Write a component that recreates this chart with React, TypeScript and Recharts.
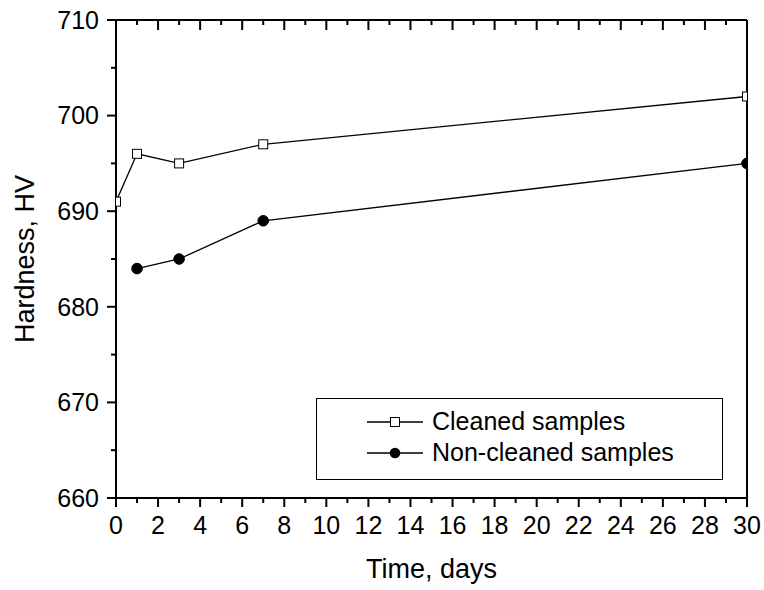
import React from 'react';
import { LineChart, Line, XAxis, YAxis, Legend, Label } from 'recharts';

// measured days and hardness values
const days = [0, 1, 3, 7, 30];
const cleaned = [691, 696, 695, 697, 702];
const nonCleaned = [null, 684, 685, 689, 695];

const xMajorTicks = [0, 2, 4, 6, 8, 10, 12, 14, 16, 18, 20, 22, 24, 26, 28, 30];
const xMinorTicks = [1, 3, 5, 7, 9, 11, 13, 15, 17, 19, 21, 23, 25, 27, 29];
const yMajorTicks = [660, 670, 680, 690, 700, 710];
const yMinorTicks = [665, 675, 685, 695, 705];

const data = days.map((d, i) => ({ day: d, cleaned: cleaned[i], nonCleaned: nonCleaned[i] }));
const xTicks = [...xMajorTicks, ...xMinorTicks].sort((a, b) => a - b);
const yTicks = [...yMajorTicks, ...yMinorTicks].sort((a, b) => a - b);

const FONT = '"Liberation Sans", Arial, sans-serif';
const axisLine = { stroke: '#000', strokeWidth: 2 };
const labelStyle = { fontSize: '25px', fontFamily: FONT, fill: '#000' };

// tick renderers: major ticks long, minor short; labels only on major ticks of bottom/left
const BottomTick = (props: any) => {
  const { x, y, payload } = props;
  const major = xMajorTicks.includes(payload.value);
  return (
    <g>
      <line x1={x} x2={x} y1={y} y2={y + (major ? 9 : 5)} stroke="#000" strokeWidth={2} />
      {major && (
        <text x={x} y={y + 18} dy="0.71em" textAnchor="middle" style={labelStyle}>{payload.value}</text>
      )}
    </g>
  );
};

const TopTick = (props: any) => {
  const { x, y, payload } = props;
  const major = xMajorTicks.includes(payload.value);
  return <line x1={x} x2={x} y1={y} y2={y + (major ? 10 : 5)} stroke="#000" strokeWidth={2} />;
};

const LeftTick = (props: any) => {
  const { x, y, payload } = props;
  const major = yMajorTicks.includes(payload.value);
  return (
    <g>
      <line x1={x} x2={x - (major ? 9 : 5)} y1={y} y2={y} stroke="#000" strokeWidth={2} />
      {major && (
        <text x={x - 17} y={y} dy="0.355em" textAnchor="end" style={labelStyle}>{payload.value}</text>
      )}
    </g>
  );
};

const RightTick = (props: any) => {
  const { x, y, payload } = props;
  const major = yMajorTicks.includes(payload.value);
  return <line x1={x} x2={x - (major ? 10 : 6)} y1={y} y2={y} stroke="#000" strokeWidth={2} />;
};

const SquareDot = (props: any) => {
  const { cx, cy, index } = props;
  if (cx == null || cy == null) return <g key={`sq-${index}`} />;
  return <rect key={`sq-${index}`} x={cx - 4.5} y={cy - 4.5} width={9} height={9} fill="#fff" stroke="#000" strokeWidth={1} />;
};

const CircleDot = (props: any) => {
  const { cx, cy, index } = props;
  if (cx == null || cy == null) return <g key={`ci-${index}`} />;
  return <circle key={`ci-${index}`} cx={cx} cy={cy} r={5.3} fill="#000" stroke="#000" />;
};

const renderLegend = () => (
  <div style={{ border: '1px solid #000', width: 407, height: 82, boxSizing: 'border-box', background: '#fff', fontFamily: FONT, fontSize: 25, paddingTop: 7 }}>
    {[
      { name: 'Cleaned samples', type: 'square' },
      { name: 'Non-cleaned samples', type: 'circle' },
    ].map((item) => (
      <div key={item.name} style={{ display: 'flex', alignItems: 'center', height: 31 }}>
        <svg width={115} height={20} style={{ flex: 'none' }}>
          <line x1={50} x2={106} y1={10} y2={10} stroke="#000" strokeWidth={1.3} />
          {item.type === 'square' ? (
            <rect x={73.5} y={5.5} width={9} height={9} fill="#fff" stroke="#000" strokeWidth={1} />
          ) : (
            <circle cx={78} cy={10} r={5.3} fill="#000" />
          )}
        </svg>
        <span>{item.name}</span>
      </div>
    ))}
  </div>
);

const App: React.FC = () => {
  return (
    <div style={{ position: 'absolute', left: 0, top: 0, background: '#fff' }}>
      <LineChart width={764} height={590} data={data} margin={{ top: 19, right: 16, bottom: 0, left: 0 }}>
        <XAxis xAxisId="x" dataKey="day" type="number" domain={[0, 30]} ticks={xTicks} interval={0}
          tickSize={0} tickMargin={0} tick={BottomTick} tickLine={false} axisLine={axisLine} height={92} allowDataOverflow>
          <Label content={(p: any) => (
            <text x={p.viewBox.x + p.viewBox.width / 2} y={578} textAnchor="middle" fontSize={27} fontFamily={FONT} fill="#000">Time, days</text>
          )} />
        </XAxis>
        <XAxis xAxisId="xt" orientation="top" dataKey="day" type="number" domain={[0, 30]} ticks={xTicks} interval={0}
          tickSize={0} tickMargin={0} tick={TopTick} tickLine={false} axisLine={axisLine} height={1} />

        <YAxis yAxisId="y" type="number" domain={[660, 710]} ticks={yTicks} interval={0}
          tickSize={0} tickMargin={0} tick={LeftTick} tickLine={false} axisLine={axisLine} width={116}>
          <Label content={(p: any) => {
            const cy = p.viewBox.y + p.viewBox.height / 2;
            return (
              <text x={34} y={cy} textAnchor="middle" fontSize={27} fontFamily={FONT} fill="#000"
                transform={`rotate(-90, 34, ${cy})`}>Hardness, HV</text>
            );
          }} />
        </YAxis>
        <YAxis yAxisId="yr" orientation="right" type="number" domain={[660, 710]} ticks={yTicks} interval={0}
          tickSize={0} tickMargin={0} tick={RightTick} tickLine={false} axisLine={axisLine} width={1} />

        <Legend layout="vertical" align="center" verticalAlign="middle" content={renderLegend}
          wrapperStyle={{ left: 316, top: 398, width: 407, height: 82 }} />

        <Line xAxisId="x" yAxisId="y" dataKey="cleaned" name="Cleaned samples" type="linear" stroke="#000" strokeWidth={1.3}
          dot={SquareDot} activeDot={false} isAnimationActive={false} />
        <Line xAxisId="x" yAxisId="y" dataKey="nonCleaned" name="Non-cleaned samples" type="linear" stroke="#000" strokeWidth={1.3}
          dot={CircleDot} activeDot={false} isAnimationActive={false} />
      </LineChart>
    </div>
  );
};

export default App;
